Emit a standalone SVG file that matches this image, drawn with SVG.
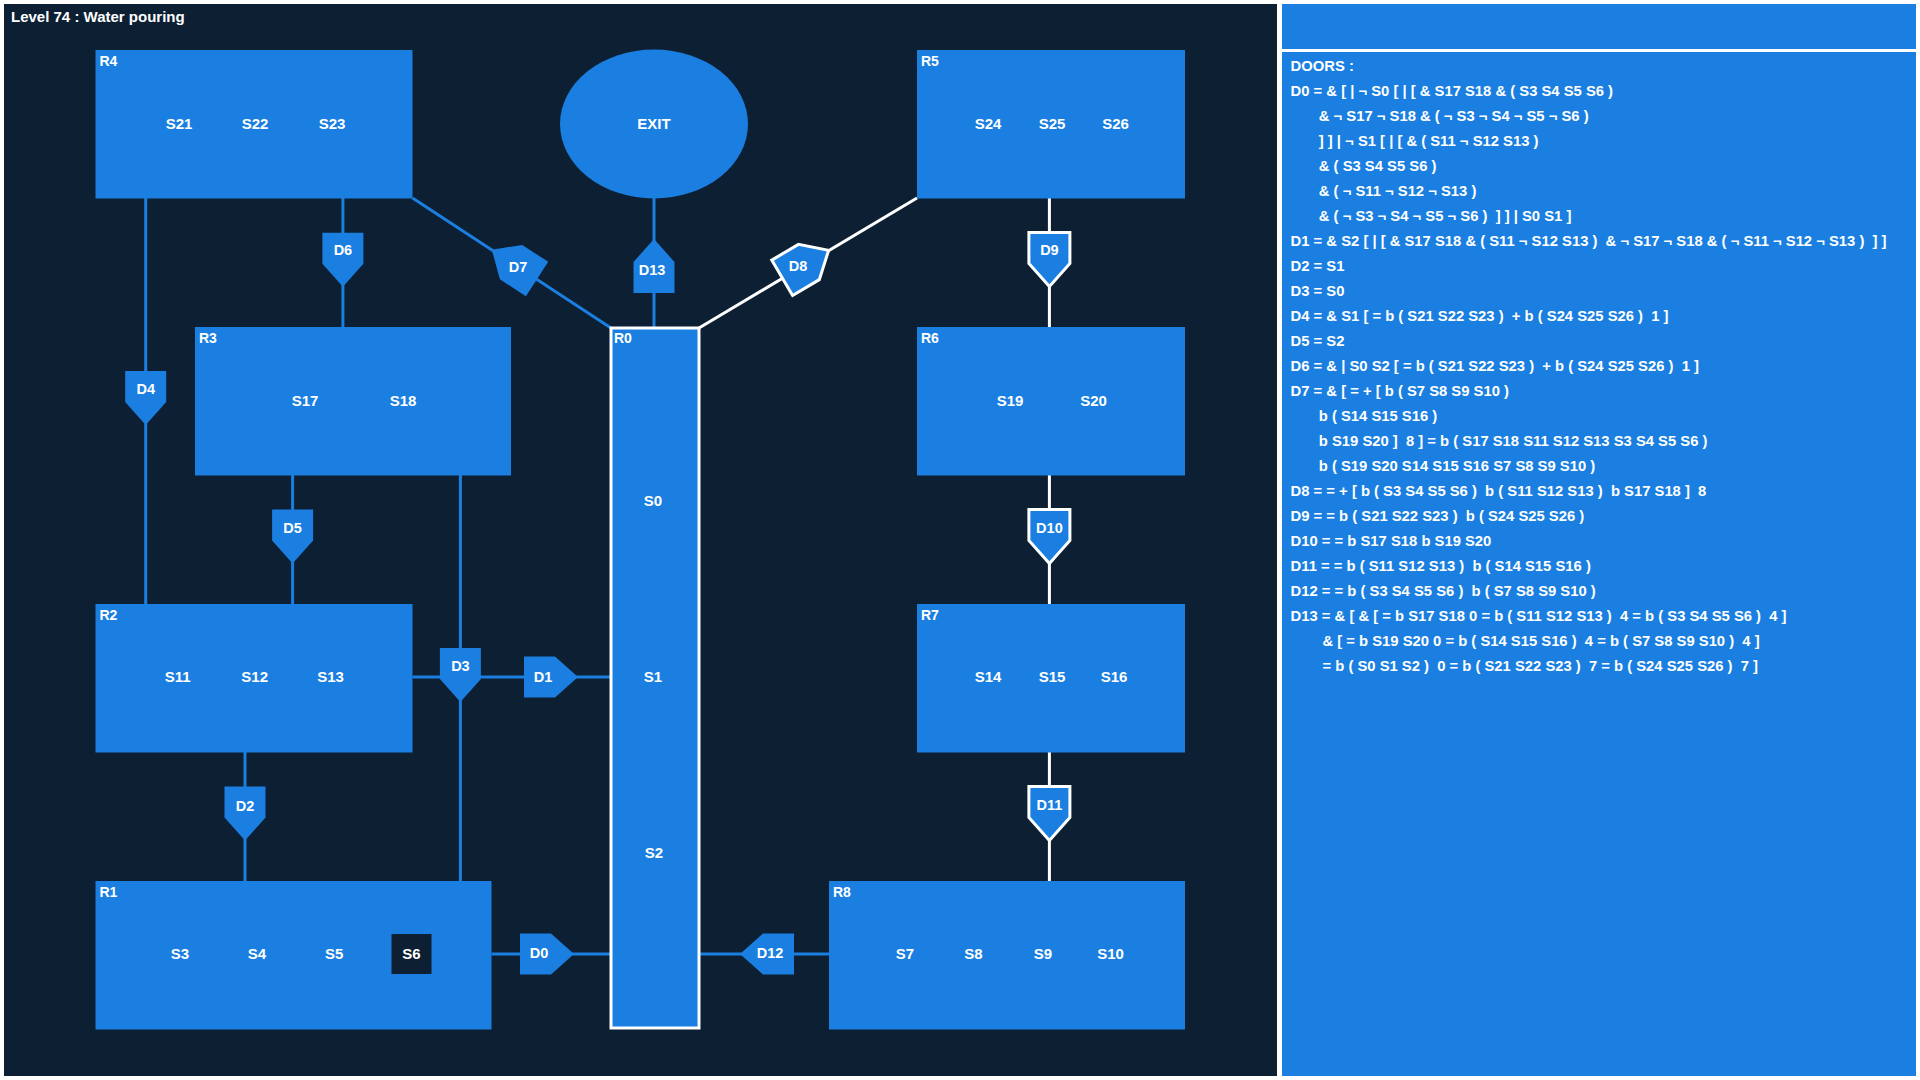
<svg xmlns="http://www.w3.org/2000/svg" xmlns:xlink="http://www.w3.org/1999/xlink" width="1920" height="1080" viewBox="0 0 1920 1080">
<style>
.room{fill:#1a7fe0}
.hl{stroke:#ffffff;stroke-width:3}
.lbl{font-family:"Liberation Sans",Arial,sans-serif;font-weight:bold;fill:#ffffff}
.rl{font-size:14px}
.sl{font-size:15px;text-anchor:middle;dominant-baseline:central}
.dl{font-size:14.5px;text-anchor:middle;dominant-baseline:central}
.cb{stroke:#1a7fe0;stroke-width:3;fill:none}
.cw{stroke:#ffffff;stroke-width:3;fill:none}
.door{fill:#1a7fe0}
.doorw{fill:#1a7fe0;stroke:#ffffff;stroke-width:3;stroke-linejoin:miter}
.pt{font-family:"Liberation Sans",Arial,sans-serif;font-weight:bold;font-size:14.8px;fill:#ffffff;white-space:pre}
</style>
<defs>
<polygon id="doorshape" points="-20.5,-30 20.5,-30 20.5,1 0,24 -20.5,1"/>
</defs>
<rect x="0" y="0" width="1920" height="1080" fill="#ffffff"/>
<rect x="4" y="4" width="1273" height="1072" fill="#0d1f33"/>
<rect x="1282" y="4" width="634" height="45" fill="#1a7fe0"/>
<rect x="1282" y="52" width="634" height="1024" fill="#1a7fe0"/>
<text class="lbl" x="11" y="22" font-size="15">Level 74 : Water pouring</text>

<g id="connectors">
<line class="cb" x1="145.7" y1="198" x2="145.7" y2="604"/>
<line class="cb" x1="342.9" y1="198" x2="342.9" y2="327"/>
<line class="cb" x1="292.6" y1="475" x2="292.6" y2="604"/>
<line class="cb" x1="460.4" y1="475" x2="460.4" y2="881"/>
<line class="cb" x1="412.5" y1="677" x2="611" y2="677"/>
<line class="cb" x1="245" y1="752" x2="245" y2="881"/>
<line class="cb" x1="491.5" y1="954" x2="611" y2="954"/>
<line class="cb" x1="699" y1="954" x2="829" y2="954"/>
<line class="cb" x1="654" y1="198" x2="654" y2="328"/>
<line class="cb" x1="412.5" y1="198" x2="611" y2="328"/>
<line class="cw" x1="699" y1="328" x2="917" y2="198"/>
<line class="cw" x1="1049.4" y1="198" x2="1049.4" y2="327"/>
<line class="cw" x1="1049.4" y1="475" x2="1049.4" y2="604"/>
<line class="cw" x1="1049.4" y1="752" x2="1049.4" y2="881"/>
</g>

<g id="R4"><rect class="room" x="95.5" y="50" width="317" height="148.5"/>
<text class="lbl rl" x="99.5" y="66">R4</text>
<text class="lbl sl" x="179" y="123">S21</text><text class="lbl sl" x="255" y="123">S22</text><text class="lbl sl" x="332" y="123">S23</text></g>

<g id="EXIT"><ellipse class="room" cx="654" cy="124" rx="94" ry="74.5"/>
<text class="lbl sl" x="654" y="123.5">EXIT</text></g>

<g id="R5"><rect class="room" x="917" y="50" width="268" height="148.5"/>
<text class="lbl rl" x="921" y="66">R5</text>
<text class="lbl sl" x="988" y="123">S24</text><text class="lbl sl" x="1052" y="123">S25</text><text class="lbl sl" x="1115.5" y="123">S26</text></g>

<g id="R3"><rect class="room" x="195" y="327" width="316" height="148.5"/>
<text class="lbl rl" x="199" y="343">R3</text>
<text class="lbl sl" x="305" y="400">S17</text><text class="lbl sl" x="403" y="400">S18</text></g>

<g id="R0"><rect class="room hl" x="611" y="328" width="88" height="700"/>
<text class="lbl rl" x="614" y="343">R0</text>
<text class="lbl sl" x="653" y="500">S0</text><text class="lbl sl" x="653" y="676">S1</text><text class="lbl sl" x="654" y="852">S2</text></g>

<g id="R6"><rect class="room" x="917" y="327" width="268" height="148.5"/>
<text class="lbl rl" x="921" y="343">R6</text>
<text class="lbl sl" x="1010" y="400">S19</text><text class="lbl sl" x="1093.5" y="400">S20</text></g>

<g id="R2"><rect class="room" x="95.5" y="604" width="317" height="148.5"/>
<text class="lbl rl" x="99.5" y="620">R2</text>
<text class="lbl sl" x="177.6" y="676">S11</text><text class="lbl sl" x="254.7" y="676">S12</text><text class="lbl sl" x="330.6" y="676">S13</text></g>

<g id="R7"><rect class="room" x="917" y="604" width="268" height="148.5"/>
<text class="lbl rl" x="921" y="620">R7</text>
<text class="lbl sl" x="988" y="676">S14</text><text class="lbl sl" x="1052" y="676">S15</text><text class="lbl sl" x="1114" y="676">S16</text></g>

<g id="R1"><rect class="room" x="95.5" y="881" width="396" height="148.5"/>
<text class="lbl rl" x="99.5" y="897">R1</text>
<text class="lbl sl" x="180" y="953">S3</text><text class="lbl sl" x="257" y="953">S4</text><text class="lbl sl" x="334.3" y="953">S5</text>
<rect x="391.5" y="934" width="40" height="40" fill="#0d1f33"/>
<text class="lbl sl" x="411.5" y="953">S6</text></g>

<g id="R8"><rect class="room" x="829" y="881" width="356" height="148.5"/>
<text class="lbl rl" x="833" y="897">R8</text>
<text class="lbl sl" x="905" y="953">S7</text><text class="lbl sl" x="973.5" y="953">S8</text><text class="lbl sl" x="1043" y="953">S9</text><text class="lbl sl" x="1110.6" y="953">S10</text></g>

<g id="D4"><use xlink:href="#doorshape" href="#doorshape" class="door" transform="translate(145.7,401)"/><text class="lbl dl" x="145.7" y="389">D4</text></g>
<g id="D6"><use xlink:href="#doorshape" href="#doorshape" class="door" transform="translate(342.9,262.7)"/><text class="lbl dl" x="342.9" y="250">D6</text></g>
<g id="D5"><use xlink:href="#doorshape" href="#doorshape" class="door" transform="translate(292.6,539.5)"/><text class="lbl dl" x="292.6" y="528">D5</text></g>
<g id="D3"><use xlink:href="#doorshape" href="#doorshape" class="door" transform="translate(460.4,678)"/><text class="lbl dl" x="460.4" y="666">D3</text></g>
<g id="D1"><use xlink:href="#doorshape" href="#doorshape" class="door" transform="translate(554,677) rotate(-90)"/><text class="lbl dl" x="543" y="677">D1</text></g>
<g id="D2"><use xlink:href="#doorshape" href="#doorshape" class="door" transform="translate(245,816.5)"/><text class="lbl dl" x="245" y="806">D2</text></g>
<g id="D0"><use xlink:href="#doorshape" href="#doorshape" class="door" transform="translate(550,954) rotate(-90)"/><text class="lbl dl" x="539" y="953">D0</text></g>
<g id="D12"><use xlink:href="#doorshape" href="#doorshape" class="door" transform="translate(764,954) rotate(90)"/><text class="lbl dl" x="770" y="953">D12</text></g>
<g id="D13"><use xlink:href="#doorshape" href="#doorshape" class="door" transform="translate(654,263) rotate(180)"/><text class="lbl dl" x="652" y="270">D13</text></g>
<g id="D7"><use xlink:href="#doorshape" href="#doorshape" class="door" transform="translate(511.9,262.7) rotate(123)"/><text class="lbl dl" x="518" y="267">D7</text></g>
<g id="D8"><use xlink:href="#doorshape" href="#doorshape" class="doorw" transform="translate(808,262.5) rotate(-120.6)"/><text class="lbl dl" x="798" y="266">D8</text></g>
<g id="D9"><use xlink:href="#doorshape" href="#doorshape" class="doorw" transform="translate(1049.4,262.5)"/><text class="lbl dl" x="1049.4" y="250">D9</text></g>
<g id="D10"><use xlink:href="#doorshape" href="#doorshape" class="doorw" transform="translate(1049.4,539.5)"/><text class="lbl dl" x="1049.4" y="528">D10</text></g>
<g id="D11"><use xlink:href="#doorshape" href="#doorshape" class="doorw" transform="translate(1049.4,816.5)"/><text class="lbl dl" x="1049.4" y="805">D11</text></g>

<g id="doors-panel" xml:space="preserve">
<text class="pt" x="1290.6" y="71">DOORS :</text>
<text class="pt" x="1290.6" y="96">D0 = &amp; [ | ¬ S0 [ | [ &amp; S17 S18 &amp; ( S3 S4 S5 S6 )</text>
<text class="pt" x="1318.8" y="121">&amp; ¬ S17 ¬ S18 &amp; ( ¬ S3 ¬ S4 ¬ S5 ¬ S6 )</text>
<text class="pt" x="1318.8" y="146">] ] | ¬ S1 [ | [ &amp; ( S11 ¬ S12 S13 )</text>
<text class="pt" x="1318.8" y="171">&amp; ( S3 S4 S5 S6 )</text>
<text class="pt" x="1318.8" y="196">&amp; ( ¬ S11 ¬ S12 ¬ S13 )</text>
<text class="pt" x="1318.8" y="221">&amp; ( ¬ S3 ¬ S4 ¬ S5 ¬ S6 )  ] ] | S0 S1 ]</text>
<text class="pt" x="1290.6" y="246">D1 = &amp; S2 [ | [ &amp; S17 S18 &amp; ( S11 ¬ S12 S13 )  &amp; ¬ S17 ¬ S18 &amp; ( ¬ S11 ¬ S12 ¬ S13 )  ] ]</text>
<text class="pt" x="1290.6" y="271">D2 = S1</text>
<text class="pt" x="1290.6" y="296">D3 = S0</text>
<text class="pt" x="1290.6" y="321">D4 = &amp; S1 [ = b ( S21 S22 S23 )  + b ( S24 S25 S26 )  1 ]</text>
<text class="pt" x="1290.6" y="346">D5 = S2</text>
<text class="pt" x="1290.6" y="371">D6 = &amp; | S0 S2 [ = b ( S21 S22 S23 )  + b ( S24 S25 S26 )  1 ]</text>
<text class="pt" x="1290.6" y="396">D7 = &amp; [ = + [ b ( S7 S8 S9 S10 )</text>
<text class="pt" x="1318.8" y="421">b ( S14 S15 S16 )</text>
<text class="pt" x="1318.8" y="446">b S19 S20 ]  8 ] = b ( S17 S18 S11 S12 S13 S3 S4 S5 S6 )</text>
<text class="pt" x="1318.8" y="471">b ( S19 S20 S14 S15 S16 S7 S8 S9 S10 )</text>
<text class="pt" x="1290.6" y="496">D8 = = + [ b ( S3 S4 S5 S6 )  b ( S11 S12 S13 )  b S17 S18 ]  8</text>
<text class="pt" x="1290.6" y="521">D9 = = b ( S21 S22 S23 )  b ( S24 S25 S26 )</text>
<text class="pt" x="1290.6" y="546">D10 = = b S17 S18 b S19 S20</text>
<text class="pt" x="1290.6" y="571">D11 = = b ( S11 S12 S13 )  b ( S14 S15 S16 )</text>
<text class="pt" x="1290.6" y="596">D12 = = b ( S3 S4 S5 S6 )  b ( S7 S8 S9 S10 )</text>
<text class="pt" x="1290.6" y="621">D13 = &amp; [ &amp; [ = b S17 S18 0 = b ( S11 S12 S13 )  4 = b ( S3 S4 S5 S6 )  4 ]</text>
<text class="pt" x="1322.5" y="646">&amp; [ = b S19 S20 0 = b ( S14 S15 S16 )  4 = b ( S7 S8 S9 S10 )  4 ]</text>
<text class="pt" x="1322.5" y="671">= b ( S0 S1 S2 )  0 = b ( S21 S22 S23 )  7 = b ( S24 S25 S26 )  7 ]</text>
</g>
</svg>
